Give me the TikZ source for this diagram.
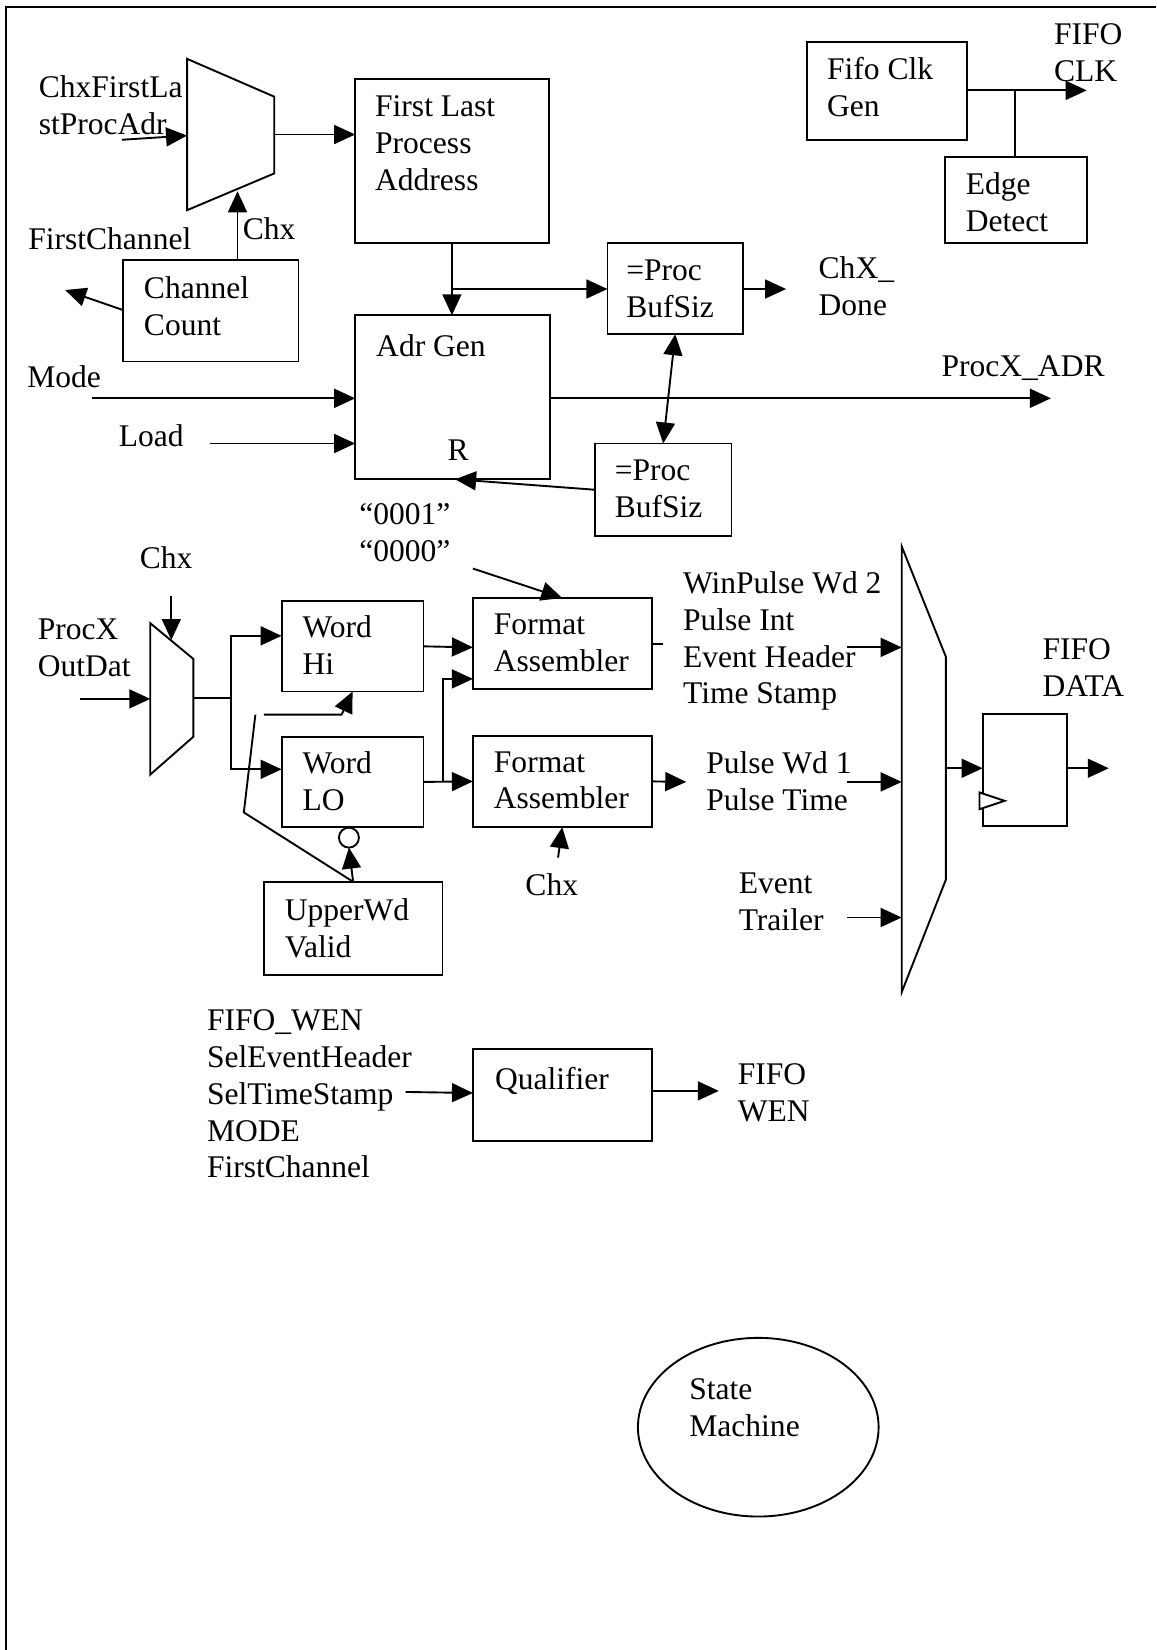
\documentclass[tikz,border=0pt]{standalone}
\usepackage{fontspec}
\setmainfont{Liberation Serif}
\usetikzlibrary{arrows.meta,shapes.geometric}
\newcommand\mybox[5]{\node[blk,minimum width={(#4-#2)*1pt},minimum height={(#5-#3)*1pt}] (#1) at ({(#2+#4)/2},{(#3+#5)/2}) {};}
\newcommand\mytext[4]{\node[lbl] (#1) at (#2,{#3-22}) {#4};}
\begin{document}
\begin{tikzpicture}[x=1pt,y=-1pt,line width=1.8pt,
  arr/.style={-{Triangle[length=20pt,width=18pt]}},
  darr/.style={{Triangle[length=20pt,width=18pt]}-{Triangle[length=20pt,width=18pt]}},
  lbl/.style={anchor=north west,inner sep=0pt,outer sep=0pt,align=left,
    font=\fontsize{30}{35}\selectfont,execute at begin node={\rule{0pt}{22pt}}},
  blk/.style={draw,rectangle,inner sep=0pt,outer sep=0pt,line width=1.8pt}]
\useasboundingbox (0,0) rectangle (1100,1570);
% frame
\draw[line width=2pt] (6,1570) -- (6,7) -- (1100,7);

% boxes
\mybox{flp}{338}{75}{522}{231}
\mybox{cc}{117}{247}{284}{344}
\mybox{ag}{338}{300}{523}{456}
\mybox{bsa}{578}{231}{707}{318}
\mybox{bsb}{566}{422}{696}{510}
\mybox{fcg}{768}{40}{920}{133}
\mybox{ed}{899}{149}{1034}{231}
\mybox{wh}{268}{572}{403}{658}
\mybox{wl}{268}{701}{403}{787}
\mybox{faa}{450}{569}{620}{656}
\mybox{fab}{450}{700}{620}{787}
\mybox{uwv}{251}{839}{421}{928}
\mybox{ff}{935}{679}{1015}{786}
\mybox{q}{450}{998}{620}{1086}
\node[draw,circle,minimum size=19pt,inner sep=0pt,outer sep=0pt] (inv) at (332,797) {};
\node[draw,ellipse,minimum width=229pt,minimum height=170pt,inner sep=0pt] (sm) at (721.5,1358) {};

% multiplexers
\draw (178,56) -- (261,92) -- (261,165) -- (178,200) -- cycle;
\draw (143,593) -- (184,627) -- (184,701) -- (143,737) -- cycle;
\draw (858,520) -- (900,625) -- (900,837) -- (858,944) -- cycle;
% clock input of register
\draw[fill=white] (932,754) -- (956,762) -- (932,770) -- cycle;

% texts
\mytext{t1}{37}{94}{ChxFirstLa\\stProcAdr}
\mytext{t2}{357}{113}{First Last\\Process\\Address}
\mytext{t3}{27}{237}{FirstChannel}
\mytext{t4}{231}{228}{Chx}
\mytext{t5}{137}{285}{Channel\\Count}
\mytext{t6}{26}{369}{Mode}
\mytext{t7}{358}{339}{Adr Gen}
\mytext{t8}{113}{425}{Load}
\mytext{t9}{426}{438}{R}
\mytext{t10}{342}{501}{“0001”\\“0000”}
\mytext{t11}{133}{541}{Chx}
\mytext{t12}{36}{611}{ProcX\\OutDat}
\mytext{t13}{288}{608}{Word\\Hi}
\mytext{t14}{288}{737}{Word\\LO}
\mytext{t15}{470}{606}{Format\\Assembler}
\mytext{t16}{470}{737}{Format\\Assembler}
\mytext{t17}{650}{566}{WinPulse Wd 2\\Pulse Int\\Event Header\\Time Stamp}
\mytext{t18}{672}{737}{Pulse Wd 1\\Pulse Time}
\mytext{t19}{703}{853}{Event\\Trailer}
\mytext{t20}{992}{630}{FIFO\\DATA}
\mytext{t21}{271}{877}{UpperWd\\Valid}
\mytext{t22}{500}{852}{Chx}
\mytext{t23}{197}{983}{FIFO\_WEN\\SelEventHeader\\SelTimeStamp\\MODE\\FirstChannel}
\mytext{t24}{471}{1037}{Qualifier}
\mytext{t25}{702}{1034}{FIFO\\WEN}
\mytext{t26}{656}{1334}{State\\Machine}
\mytext{t27}{787}{77}{Fifo Clk\\Gen}
\mytext{t28}{919}{186}{Edge\\Detect}
\mytext{t29}{1003}{44.5}{FIFO\\CLK}
\mytext{t30}{596}{269}{=Proc\\BufSiz}
\mytext{t31}{779}{266}{ChX\_\\Done}
\mytext{t32}{896}{358}{ProcX\_ADR}
\mytext{t33}{585}{460}{=Proc\\BufSiz}

% coordinates
\coordinate (c1) at (116,133);
\coordinate (m1in) at (178,129);
\coordinate (m1out) at (261,128);
\coordinate (m1sel) at (226,182);
\coordinate (fcout) at (62,276);
\coordinate (j1) at (430,275);
\coordinate (done) at (748,275);
\coordinate (modein) at (88,379);
\coordinate (loadin) at (200,422);
\coordinate (adrout) at (1000,379);
\coordinate (agr) at (433,456);
\coordinate (clkout) at (1034,86);
\coordinate (j2) at (966,86);
\coordinate (c0) at (450,541);
\coordinate (chx2) at (163,567);
\coordinate (m2sel) at (163,609);
\coordinate (pin) at (76,665);
\coordinate (m2in) at (143,665);
\coordinate (m2out) at (184,664);
\coordinate (j3) at (220,664);
\coordinate (j4) at (421.5,744);
\coordinate (fastub) at (631,613);
\coordinate (fabo) at (653,744);
\coordinate (k1) at (232,773);
\coordinate (k2) at (243,680);
\coordinate (k3) at (251,680);
\coordinate (k4) at (325,680);
\coordinate (chx3) at (531,816);
\coordinate (bia) at (806,616);
\coordinate (bib) at (806,744);
\coordinate (bic) at (806,873);
\coordinate (bma) at (858,616);
\coordinate (bmb) at (858,744);
\coordinate (bmc) at (858,873);
\coordinate (bmo) at (900,731);
\coordinate (fdo) at (1055,731);
\coordinate (qin) at (386,1039);
\coordinate (qo) at (684,1038);

% connectors
\draw[arr] (c1) -- (m1in);
\draw[arr] (m1out) -- (flp.west |- m1out);
\draw[arr] (cc.north -| m1sel) -- (m1sel);
\draw[arr] (cc.west |- 0,295) -- (fcout);
\draw[arr] (flp.south) -- (flp.south |- ag.north);
\draw[arr] (j1) -- (bsa.west |- j1);
\draw[arr] (bsa.east |- done) -- (done);
\draw[arr] (modein) -- (ag.west |- modein);
\draw[arr] (loadin) -- (ag.west |- loadin);
\draw[arr] (ag.east |- adrout) -- (adrout);
\draw[darr] (bsa.south) -- (bsb.north);
\draw[arr] (bsb.west |- 0,466) -- (agr);
\draw[arr] (fcg.east |- clkout) -- (clkout);
\draw (j2) -- (ed.north -| j2);
\draw[arr] (c0) -- (faa.north);
\draw[arr] (chx2) -- (m2sel);
\draw[arr] (pin) -- (m2in);
\draw (m2out) -- (j3);
\draw[arr] (j3) |- (wh.west |- 0,605);
\draw[arr] (j3) |- (wl.west |- 0,732);
\draw[arr] (wh.east) -- (faa.west |- 0,616);
\draw[arr] (wl.east) -- (fab.west);
\draw[arr] (j4) |- (faa.west |- 0,646);
\draw (faa.east |- fastub) -- (fastub);
\draw[arr] (fab.east) -- (fabo);
\draw[arr] (uwv.north) -- (inv.south);
\draw (uwv.north) -- (k1) -- (k2);
\draw[arr] (k3) -- (k4) -- (wh.south);
\draw[arr] (chx3) -- (fab.south);
\draw[arr] (bia) -- (bma);
\draw[arr] (bib) -- (bmb);
\draw[arr] (bic) -- (bmc);
\draw[arr] (bmo) -- (ff.west |- bmo);
\draw[arr] (ff.east |- fdo) -- (fdo);
\draw[arr] (qin) -- (q.west |- 0,1040);
\draw[arr] (q.east |- qo) -- (qo);
\end{tikzpicture}
\end{document}
